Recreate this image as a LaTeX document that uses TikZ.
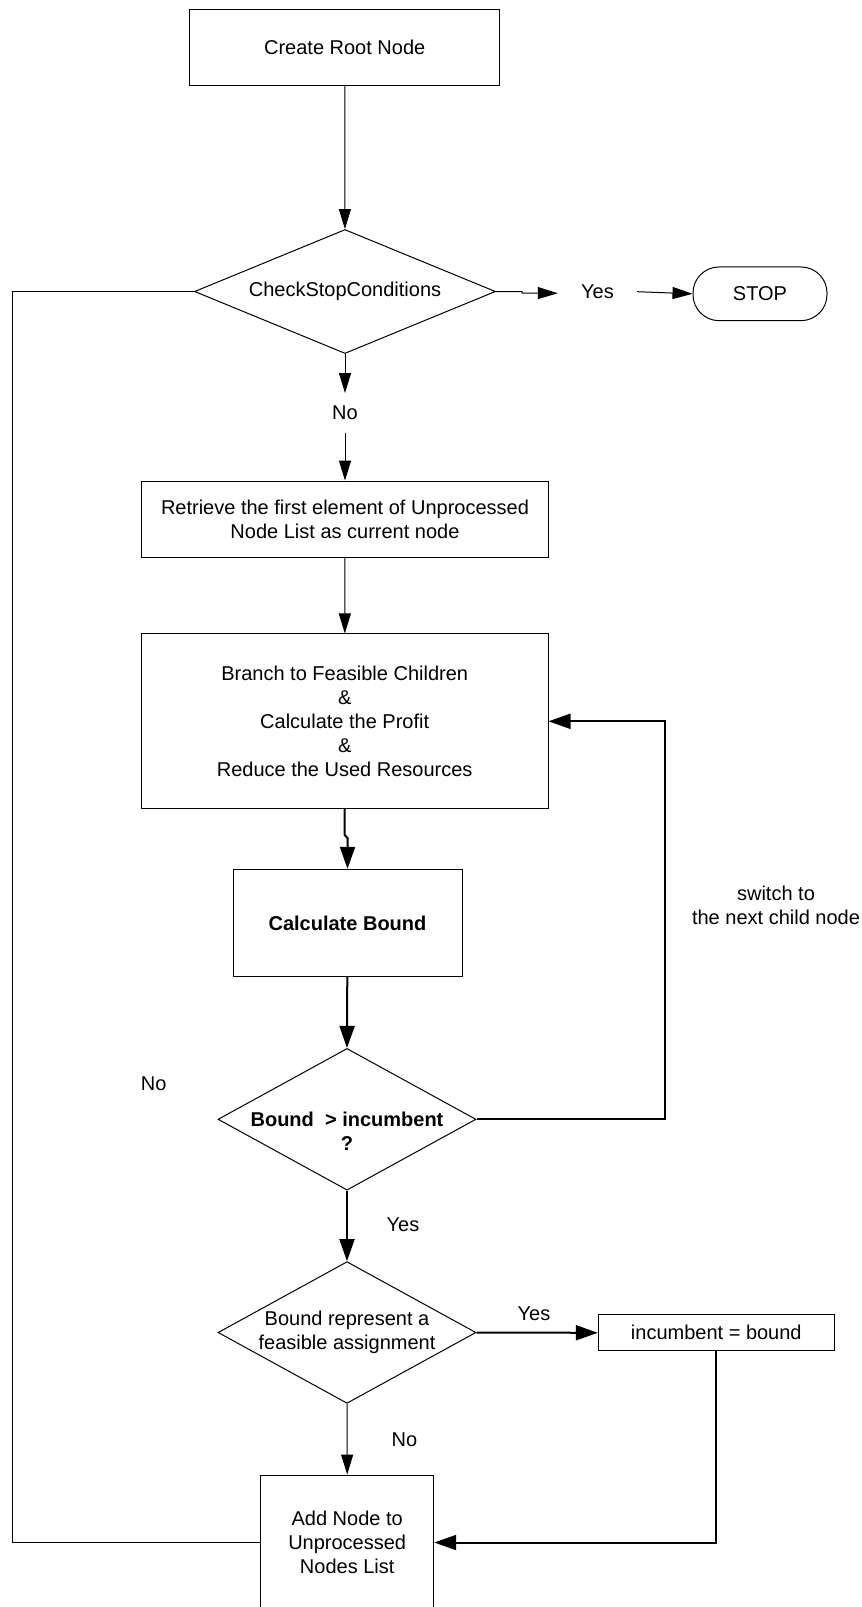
\documentclass[tikz,border=0pt]{standalone}
\usepackage{fontspec}
\setmainfont{Liberation Sans}
\usetikzlibrary{shapes.geometric,arrows.meta}
\begin{document}
\begin{tikzpicture}[x=1pt,y=-1pt,
  every node/.style={font=\fontsize{20}{24}\selectfont, align=center, inner sep=0pt},
  process/.style={draw, line width=1pt, rectangle},
  decision/.style={draw, line width=1pt, diamond},
  terminal/.style={draw, line width=1pt, rectangle, rounded corners=26pt},
  flow/.style={line width=1pt, -{Triangle[length=20pt,width=12pt]}},
  flowbold/.style={line width=2pt, -{Triangle[length=22pt,width=15pt]}},
  link/.style={line width=1pt},
  linkbold/.style={line width=2pt}]
\useasboundingbox (0,0) rectangle (862,1607);

% main column
\node[process, minimum width=310.5pt, minimum height=76pt] (root) at (344.7,47.3) {Create Root Node};
\node[decision, aspect=2.43, minimum width=301pt, minimum height=124pt] (chk) at (345,291.5) {CheckStopConditions};
\node[minimum width=79pt, minimum height=30pt] (yes1) at (597.5,291.7) {Yes};
\node[terminal, minimum width=134pt, minimum height=53.7pt] (stop) at (760,293.8) {STOP};
\node[minimum height=39.4pt] (no1) at (345,413) {No};
\node[process, minimum width=407pt, minimum height=76pt] (ret) at (345,519)
  {Retrieve the first element of Unprocessed\\Node List as current node};
\node[process, minimum width=406.6pt, minimum height=174.7pt] (br) at (344.7,721.3)
  {Branch to Feasible Children\\\&\\Calculate the Profit\\\&\\Reduce the Used Resources};
\node[process, minimum width=229pt, minimum height=107.4pt, font=\fontsize{20}{24}\selectfont\bfseries] (cb) at (347.5,923) {Calculate Bound};
\node[decision, aspect=1.82, minimum width=258pt, minimum height=141.7pt] (bnd) at (347,1119.3) {};
\node[font=\fontsize{20}{24}\selectfont\bfseries] (bndtxt) at (347,1131.3) {Bound~~> incumbent\\?};
\node[decision, aspect=1.82, minimum width=258pt, minimum height=141.7pt] (fea) at (347,1332.5)
  {Bound represent a\\feasible assignment};
\node[process, minimum width=236pt, minimum height=35.7pt] (inc) at (716.3,1332.8) {incumbent = bound};
\node[process, minimum width=173pt, minimum height=135pt] (add) at (347.2,1542.5)
  {Add Node to\\Unprocessed\\Nodes List};

% free labels
\node (sw) at (776,905.3) {switch to\\the next child node};
\node (no2) at (153.6,1083.3) {No};
\node (yes2) at (403,1225) {Yes};
\node (yes3) at (534,1314) {Yes};
\node (no3) at (404.4,1439.3) {No};

% connectors
\draw[flow] (root) -- (chk);
\draw[flow] (chk.east) -- ++(26,0) -- ++(0,1.5) -- (yes1.west |- 0,293.2);
\draw[flow] (yes1.east) -- (stop.west);
\draw[flow] (chk.south) -- (no1.north);
\draw[flow] (no1.south) -- (ret.north);
\draw[flow] (ret) -- (br);
\draw[flowbold] (br.south) -- (344.7,835) -- (347.5,838) -- (cb.north);
\draw[flowbold] (cb) -- (bnd.north);
\draw[flowbold] (bnd.east) -| (664.6,721.3) -- (br.east);
\draw[flowbold] (bnd.south) -- (fea.north);
\draw[flowbold] (fea.east) -- (inc.west);
\draw[flow] (fea.south) -- (add.north);
\draw[flowbold] (inc.south) |- (add.east);
\draw[link] (chk.west) -| (12.2,1542.5) -- (add.west);
\end{tikzpicture}
\end{document}
